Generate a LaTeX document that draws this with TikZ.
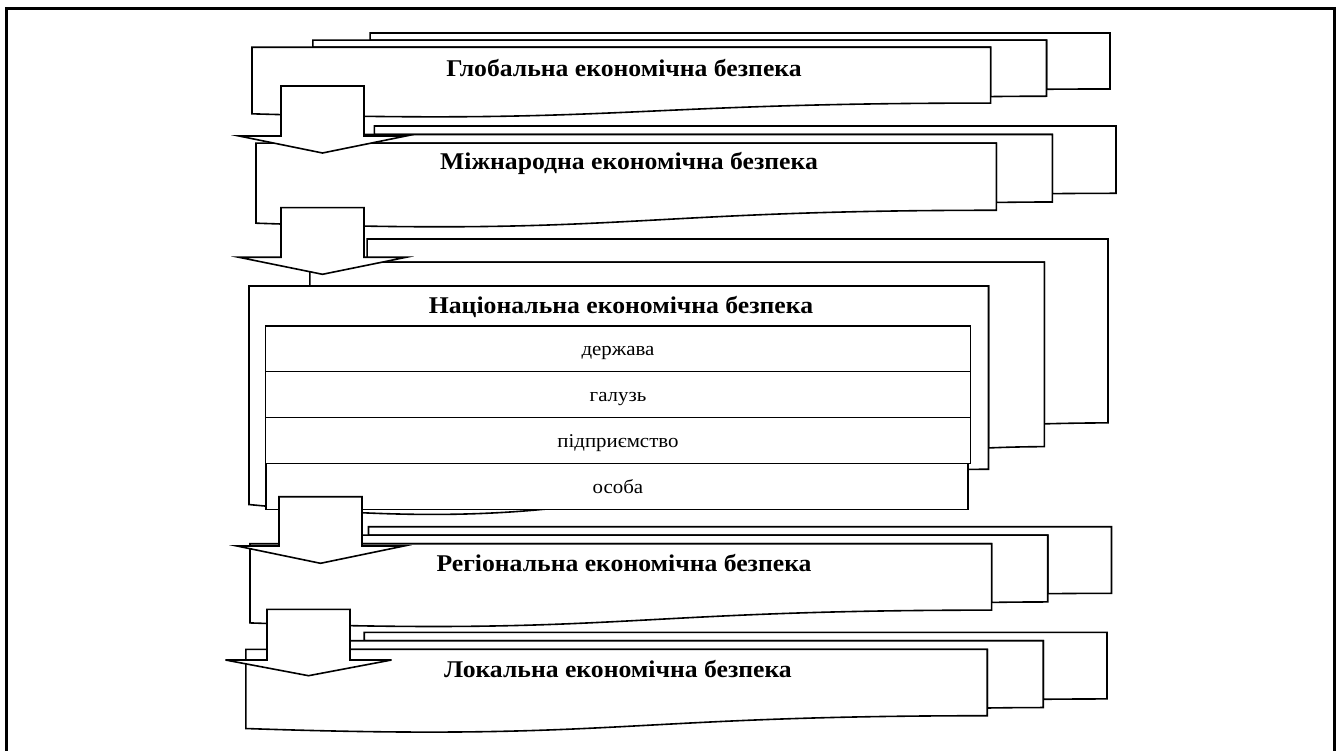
\documentclass[tikz,border=0pt]{standalone}
\usepackage{fontspec}
\setmainfont{Liberation Serif}
\newcommand\mdoc[4]{%
\begin{scope}[shift={(#1,#2)},xscale=#3,yscale=#4]
\path[docline] (0.13759,0.08403) -- (0.13759,0) -- (1,0) -- (1,0.66630) .. controls (0.96296,0.66630) and (0.92593,0.66977) .. (0.92593,0.66977) -- (0.92593,0.08403) -- cycle;
\path[docline] (0.07093,0.17014) -- (0.07093,0.08403) -- (0.92593,0.08403) -- (0.92593,0.75241) .. controls (0.89343,0.75241) and (0.86088,0.75704) .. (0.86088,0.75704) -- (0.86088,0.17014) -- cycle;
\path[docline] (0,0.96213) .. controls (0.43046,1.08991) and (0.43046,0.83435) .. (0.86088,0.83435) -- (0.86088,0.17014) -- (0,0.17014) -- cycle;
\end{scope}}
\newcommand\darrow[6]{% shaft left, shaft right, top, head y, head half width, tip y
\path[docline] (#1,#3) -- (#2,#3) -- (#2,#4) -- ({(#1+#2)/2+#5},#4) -- ({(#1+#2)/2},#6) -- ({(#1+#2)/2-#5},#4) -- (#1,#4) -- cycle;}
\begin{document}
\begin{tikzpicture}[x=1pt,y=-1pt,
  docline/.style={draw=black,fill=white,line width=1.6pt,line join=miter},
  title/.style={font=\bfseries\fontsize{24}{28}\selectfont,inner sep=0pt,anchor=base,xscale=1.07},
  rowbox/.style={draw=black,fill=white,line width=1.6pt,inner sep=0pt},
  rowtext/.style={font=\fontsize{19.5}{22}\selectfont,inner sep=0pt,anchor=base,xscale=1.07}]
\useasboundingbox (0,0) rectangle (1338,751);
\fill[white] (0,0) rectangle (1338,751);
\draw[line width=3pt] (6,752) -- (6,9) -- (1334.5,9) -- (1334.5,752);
% Global
\mdoc{252}{33}{858}{84}
\node[title] (glob) at (624,76.7) {Глобальна економічна безпека};
% International
\mdoc{256}{126}{860}{101}
\node[title] (intl) at (629,170) {Міжнародна економічна безпека};
\darrow{281}{364}{86}{136}{83.5}{153}
% National
\mdoc{249}{239}{859}{276}
\node[title] (nat) at (621,313) {Національна економічна безпека};
\node[rowbox,minimum width=705pt,minimum height=45.7pt] (r1) at (618,348.9) {};
\node[rowbox,minimum width=705pt,minimum height=45.7pt] (r2) at (618,394.5) {};
\node[rowbox,minimum width=705pt,minimum height=46pt] (r3) at (618,440.3) {};
\node[rowbox,minimum width=702pt,minimum height=46pt] (r4) at (616.7,486.3) {};
\node[rowtext] (t1) at ([yshift=-7pt]r1.center) {держава};
\node[rowtext] (t2) at ([yshift=-7pt]r2.center) {галузь};
\node[rowtext] (t3) at ([yshift=-7pt]r3.center) {підприємство};
\node[rowtext] (t4) at ([yshift=-7pt,xshift=1.3pt]r4.center) {особа};
\darrow{281}{364}{207.7}{257.3}{83.5}{274.3}
% Regional
\mdoc{250}{526.7}{861.5}{100}
\node[title] (reg) at (624,571) {Регіональна економічна безпека};
\darrow{279}{362}{496.7}{546}{83.5}{563.3}
% Local
\mdoc{245.8}{632.3}{861.2}{100}
\node[title] (loc) at (618,677) {Локальна економічна безпека};
\darrow{267}{350}{609.3}{660}{83}{675.7}
\end{tikzpicture}
\end{document}
